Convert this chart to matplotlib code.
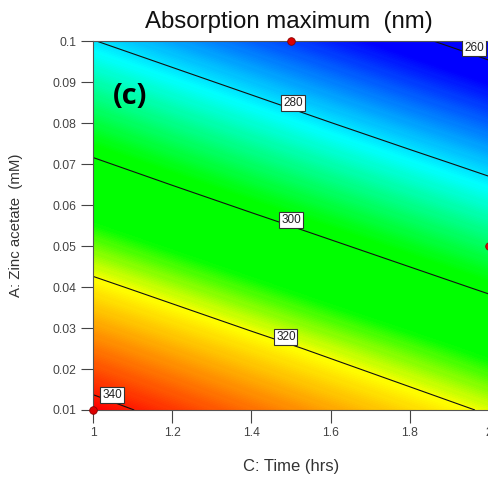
import numpy as np
import matplotlib
matplotlib.use("Agg")
import matplotlib.pyplot as plt
from matplotlib.colors import LinearSegmentedColormap

plt.rcParams['font.family'] = ['Liberation Sans', 'DejaVu Sans']

# Factor grid (C: Time in hrs, A: Zinc acetate in mM)
time_hrs = [1.0, 1.2, 1.4, 1.6, 1.8, 2.0]
zinc_mM = [0.01, 0.025, 0.04, 0.055, 0.07, 0.085, 0.1]
# Estimated absorption maximum (nm) at each grid node (rows = zinc, cols = time)
absorption_nm = [
    [342.6, 337.6, 332.8, 328.2, 323.7, 319.2],
    [332.2, 327.5, 322.9, 318.4, 313.9, 309.3],
    [321.8, 317.2, 312.6, 308.0, 303.4, 298.8],
    [311.4, 306.8, 302.2, 297.6, 293.0, 288.4],
    [301.1, 296.4, 291.7, 287.1, 282.5, 277.9],
    [290.7, 286.0, 281.3, 276.6, 271.9, 267.3],
    [280.2, 275.5, 270.8, 266.1, 261.4, 256.7],
]
contour_levels = [260, 280, 300, 320, 340]
# design points
pts_time = [1.0, 1.5, 2.0]
pts_zinc = [0.01, 0.1, 0.05]

xticks = [1, 1.2, 1.4, 1.6, 1.8, 2]
xticklabels = ['1', '1.2', '1.4', '1.6', '1.8', '2']
yticks = [0.01, 0.02, 0.03, 0.04, 0.05, 0.06, 0.07, 0.08, 0.09, 0.1]
yticklabels = ['0.01', '0.02', '0.03', '0.04', '0.05', '0.06', '0.07', '0.08', '0.09', '0.1']

X, Y = np.meshgrid(time_hrs, zinc_mM)
Z = np.array(absorption_nm)

vmin, vmax = 256.0, 342.5
def n(v):
    return (v - vmin) / (vmax - vmin)
cmap = LinearSegmentedColormap.from_list('de', [
    (0.0, '#0000ff'),
    (n(264), '#0000ff'),
    (n(282), '#00ffff'),
    (n(298), '#00ff00'),
    (n(311), '#00ff00'),
    (n(320.5), '#ffff00'),
    (1.0, '#ff0000'),
])

fig = plt.figure(figsize=(4.88, 4.87), dpi=100)
ax = fig.add_axes([93/488, 77/487, 396/488, 369/487])
ax.contourf(X, Y, Z, levels=np.linspace(vmin - 1, vmax + 1, 300), cmap=cmap,
            vmin=vmin, vmax=vmax, antialiased=False)
cs = ax.contour(X, Y, Z, levels=contour_levels, colors='#111111', linewidths=0.8)
lbl_pos = [(1.962, 0.0983), (1.505, 0.0849), (1.5, 0.0563), (1.487, 0.0278), (1.048, 0.0137)]
texts = ax.clabel(cs, inline=False, fontsize=8.5, fmt='%d', manual=lbl_pos, colors='#222222')
for t, p in zip(texts, lbl_pos):
    t.set_rotation(0)
    t.set_position(p)
    t.set_bbox(dict(boxstyle='square,pad=0.15', facecolor='white', edgecolor='#333333', linewidth=0.8))

ax.scatter(pts_time, pts_zinc, s=30, color='#dd0000', edgecolors='#880000', linewidths=0.6,
           zorder=5, clip_on=False)

ax.set_xlim(1, 2)
ax.set_ylim(0.01, 0.1)
ax.set_xticks(xticks)
ax.set_xticklabels(xticklabels)
ax.set_yticks(yticks)
ax.set_yticklabels(yticklabels)
ax.tick_params(direction='out', length=9, width=0.8, colors='#444444', labelsize=8.7,
               labelcolor='#444444', pad=3)
for s in ax.spines.values():
    s.set_color('#555555')
    s.set_linewidth(0.8)

ax.text(0.05, 0.85, '(c)', transform=ax.transAxes, fontsize=21, fontweight='bold',
        fontfamily=['Open Sans', 'DejaVu Sans'], color='black', va='center')

fig.text(289/488, 1 - 22/487, 'Absorption maximum  (nm)', ha='center', va='center',
         fontsize=17.3, color='#111111')
fig.text(291/488, 1 - 467/487, 'C: Time (hrs)', ha='center', va='center', fontsize=12,
         color='#333333')
fig.text(16/488, 1 - 225/487, 'A: Zinc acetate  (mM)', ha='center', va='center',
         rotation=90, fontsize=10.8, color='#333333')

fig.savefig('out.png', dpi=100)
